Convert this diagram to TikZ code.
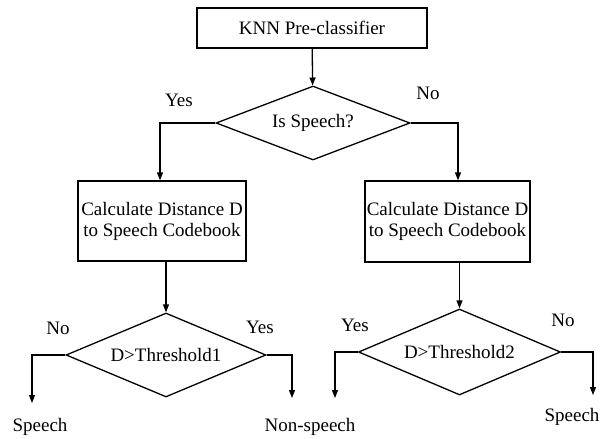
\documentclass[tikz,border=0pt]{standalone}
\usepackage{fontspec}
\setmainfont{Liberation Serif}
\usetikzlibrary{shapes.geometric,arrows.meta}

\begin{document}
\begin{tikzpicture}[x=1pt,y=-1pt,
    every node/.style={font=\fontsize{19}{21}\selectfont},
    box/.style={draw,line width=1.3pt,align=center,inner sep=0pt},
    test/.style={draw,diamond,line width=1.3pt,inner sep=0pt,aspect=2.4},
    arr/.style={line width=1.3pt,-{Triangle[length=8pt,width=6pt]}}]
\useasboundingbox (0,0) rectangle (608,439);
% boxes and tests
\node[box,minimum width=230pt,minimum height=40pt] (pre) at (312,28) {KNN Pre-classifier};
\node[test,minimum width=194pt,minimum height=74pt] (isspeech) at (313,123) {Is Speech?};
\node[box,minimum width=168pt,minimum height=80pt] (calcL) at (162,221) {Calculate Distance D\\to Speech Codebook};
\node[box,minimum width=165pt,minimum height=81pt] (calcR) at (447.5,221.5) {Calculate Distance D\\to Speech Codebook};
\node[test,minimum width=200pt,minimum height=84pt] (thrL) at (166,355) {D>Threshold1};
\node[test,minimum width=202pt,minimum height=86pt] (thrR) at (459.5,352) {D>Threshold2};
% branch labels
\node (yes1) at (179,100) {Yes};
\node (no1) at (428,93) {No};
\node (no2) at (58,328) {No};
\node (yes2) at (260,327) {Yes};
\node (yes3) at (355,325) {Yes};
\node (no3) at (563,320) {No};
% outcomes
\coordinate (endA) at (32,403);
\coordinate (endB) at (292,398);
\coordinate (endC) at (335,398);
\coordinate (endD) at (593,395);
\node (speechA) at (40,427) {Speech};
\node (nonspeech) at (310,427) {Non-speech};
\node (speechD) at (572,417) {Speech};
% connectors
\draw[arr] (pre) -- (isspeech);
\draw[arr] (isspeech.west) -| ([xshift=-2pt]calcL.north);
\draw[arr] (isspeech.east) -| ([xshift=10.5pt]calcR.north);
\draw[arr] ([xshift=4pt]calcL.south) -- (thrL.north);
\draw[arr] ([xshift=12pt]calcR.south) -- (thrR.north);
\draw[arr] (thrL.west) -| (endA);
\draw[arr] (thrL.east) -| (endB);
\draw[arr] (thrR.west) -| (endC);
\draw[arr] (thrR.east) -| (endD);
\end{tikzpicture}
\end{document}
